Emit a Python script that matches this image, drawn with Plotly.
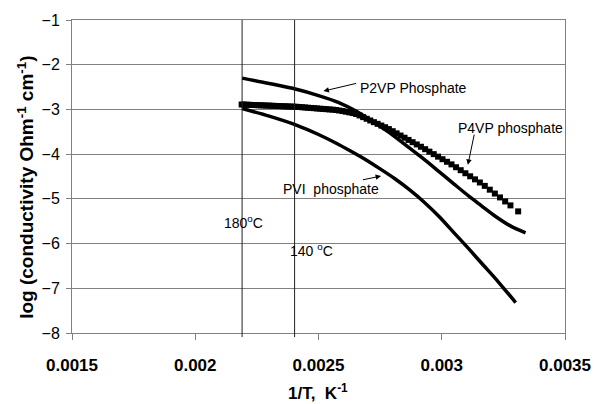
import plotly.graph_objects as go

# ---------------- data ----------------
p2vp_x = [0.00219, 0.00230, 0.00241, 0.00250, 0.00258, 0.00265, 0.00272, 0.00278, 0.00285,
          0.00292, 0.00298, 0.00305, 0.00311, 0.00316, 0.00322, 0.00328, 0.00334]
p2vp_y = [-2.30, -2.42, -2.55, -2.69, -2.84, -3.03, -3.27, -3.49, -3.78,
          -4.08, -4.35, -4.67, -4.94, -5.15, -5.40, -5.61, -5.76]

pvi_x = [0.00219, 0.00230, 0.00241, 0.00250, 0.00257, 0.00263, 0.00269, 0.00275, 0.00281,
         0.00287, 0.00293, 0.00299, 0.00305, 0.00311, 0.00317, 0.00323, 0.00330]
pvi_y = [-2.98, -3.15, -3.35, -3.56, -3.75, -3.93, -4.12, -4.33, -4.55,
         -4.80, -5.08, -5.40, -5.76, -6.12, -6.49, -6.86, -7.32]

p4vp_x = [0.0021882, 0.0021978, 0.0022075, 0.0022173, 0.0022272, 0.0022371, 0.0022472, 0.0022573,
          0.0022676, 0.0022779, 0.0022883, 0.0022989, 0.0023095, 0.0023202, 0.0023310, 0.0023419,
          0.0023529, 0.0023641, 0.0023753, 0.0023866, 0.0023981, 0.0024096, 0.0024213, 0.0024331,
          0.0024450, 0.0024570, 0.0024691, 0.0024814, 0.0024938, 0.0025063, 0.0025189, 0.0025316,
          0.0025445, 0.0025575, 0.0025707, 0.0025840, 0.0025974, 0.0026110, 0.0026247, 0.0026385,
          0.0026525, 0.0026667, 0.0026810, 0.0026954, 0.0027100, 0.0027248, 0.0027397, 0.0027548,
          0.0027701, 0.0027855, 0.0028011, 0.0028169, 0.0028329, 0.0028490, 0.0028653, 0.0028818,
          0.0028986, 0.0029155, 0.0029326, 0.0029499, 0.0029674, 0.0029851, 0.0030030, 0.0030211,
          0.0030395, 0.0030581, 0.0030769, 0.0030960, 0.0031153, 0.0031348, 0.0031546, 0.0031746,
          0.0031949, 0.0032154, 0.0032362, 0.0032573, 0.0032787, 0.0033100]
p4vp_y = [-2.890, -2.892, -2.894, -2.897, -2.899, -2.901, -2.904, -2.906,
          -2.908, -2.911, -2.913, -2.915, -2.918, -2.920, -2.923, -2.925,
          -2.928, -2.930, -2.933, -2.935, -2.938, -2.940, -2.946, -2.951,
          -2.956, -2.962, -2.967, -2.972, -2.978, -2.983, -2.989, -2.994,
          -3.000, -3.005, -3.013, -3.024, -3.036, -3.050, -3.065, -3.081,
          -3.102, -3.135, -3.172, -3.209, -3.247, -3.285, -3.322, -3.360,
          -3.398, -3.440, -3.487, -3.535, -3.584, -3.633, -3.682, -3.732,
          -3.783, -3.835, -3.889, -3.944, -4.000, -4.056, -4.113, -4.171,
          -4.229, -4.293, -4.359, -4.427, -4.495, -4.564, -4.634, -4.710,
          -4.795, -4.881, -4.968, -5.057, -5.146, -5.280]

temp_lines_x = [0.00219, 0.002403]
x_tickvals = [0.0015, 0.002, 0.0025, 0.003, 0.0035]
x_ticktext = ["<b>0.0015</b>", "<b>0.002</b>", "<b>0.0025</b>", "<b>0.003</b>", "<b>0.0035</b>"]
y_tickvals = [-8, -7, -6, -5, -4, -3, -2, -1]

FONT = "Liberation Sans, Arial, sans-serif"
GRID = "#808080"

fig = go.Figure()
fig.add_trace(go.Scatter(x=p4vp_x, y=p4vp_y, mode="markers", name="P4VP phosphate",
                         marker=dict(symbol="square", size=6, color="black", line=dict(width=0))))
fig.add_trace(go.Scatter(x=p2vp_x, y=p2vp_y, mode="lines", name="P2VP Phosphate",
                         line=dict(color="black", width=3.5, shape="spline", smoothing=0.8)))
fig.add_trace(go.Scatter(x=pvi_x, y=pvi_y, mode="lines", name="PVI phosphate",
                         line=dict(color="black", width=3.5, shape="spline", smoothing=0.8)))

# 180 C and 140 C marker lines (extend slightly below the axis like ticks)
for xv in temp_lines_x:
    fig.add_shape(type="line", xref="x", yref="paper", x0=xv, x1=xv, y0=-0.013, y1=1,
                  line=dict(color="#222222", width=1))

# text labels
labels = [
    (0.002659, -2.52, "P2VP Phosphate"),
    (0.003058, -3.42, "P4VP phosphate"),
    (0.002349, -4.77, "PVI  phosphate"),
    (0.00211, -5.52, "180<sup>o</sup>C"),
    (0.002377, -6.15, "140 <sup>o</sup>C"),
]
for x, y, t in labels:
    fig.add_annotation(x=x, y=y, text=t, showarrow=False, xanchor="left", yanchor="middle",
                       font=dict(family=FONT, size=14, color="black"))

# arrows (tail -> head)
arrows = [
    ((0.002659, -2.41), (0.00252, -2.59)),
    ((0.003133, -3.53), (0.003106, -4.24)),
    ((0.002674, -4.58), (0.002754, -4.49)),
]
for (tx, ty), (hx, hy) in arrows:
    fig.add_annotation(x=hx, y=hy, ax=tx, ay=ty, axref="x", ayref="y", xref="x", yref="y",
                       text="", showarrow=True, arrowhead=2, arrowsize=1.1, arrowwidth=1,
                       arrowcolor="black", standoff=0, startstandoff=0)

# axis titles
fig.add_annotation(xref="paper", yref="paper", x=-0.094, y=0.466, textangle=-90,
                   text="<b>log (conductivity Ohm<sup>-1</sup> cm<sup>-1</sup>)</b>",
                   showarrow=False, xanchor="center", yanchor="middle",
                   font=dict(family=FONT, size=19, color="black"))
fig.add_annotation(xref="paper", yref="paper", x=0.498, y=-0.19,
                   text="<b>1/T,  K<sup>-1</sup></b>",
                   showarrow=False, xanchor="center", yanchor="middle",
                   font=dict(family=FONT, size=17, color="black"))

fig.update_layout(
    width=603, height=404,
    margin=dict(l=72, r=29, t=20, b=71),
    paper_bgcolor="white", plot_bgcolor="white",
    showlegend=False,
    font=dict(family=FONT, color="black"),
    xaxis=dict(range=[0.0015, 0.0035], tickvals=x_tickvals, ticktext=x_ticktext,
               ticks="outside", ticklen=6, tickcolor=GRID, showgrid=False, zeroline=False,
               showline=True, linecolor=GRID, linewidth=1, mirror=True,
               tickfont=dict(family=FONT, size=17, color="black"), ticklabelstandoff=11),
    yaxis=dict(range=[-8, -1], tickvals=y_tickvals, ticks="outside", ticklen=5, tickcolor=GRID,
               showgrid=True, gridcolor=GRID, gridwidth=1, zeroline=False,
               showline=True, linecolor=GRID, linewidth=1, mirror=True,
               tickfont=dict(family=FONT, size=16, color="black"), ticklabelstandoff=3),
)

fig.write_html("out.html")
